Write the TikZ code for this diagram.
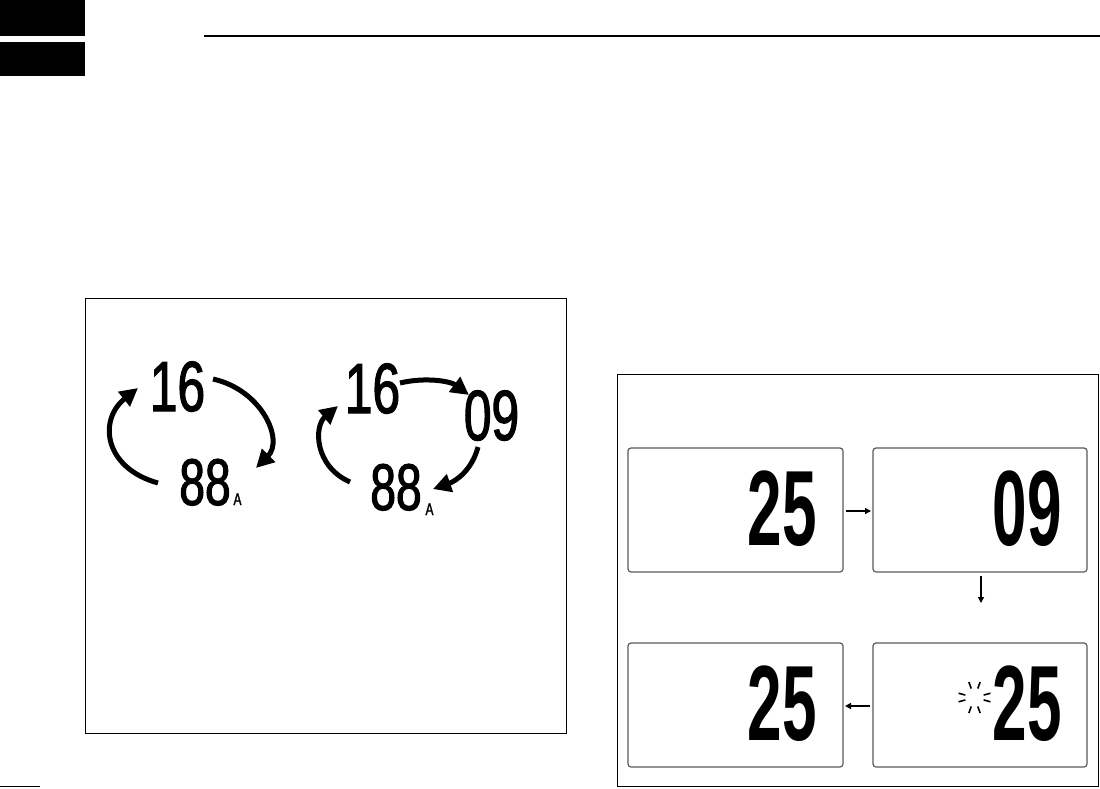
\documentclass[tikz,border=0pt]{standalone}
\usepackage{fontspec}
\setmainfont{Liberation Sans}
\newfontfamily\lcdbig[FakeStretch=0.58]{Liberation Sans}
\newfontfamily\lcdsmall[FakeStretch=0.70,FakeBold=1.6]{Liberation Sans}
\usetikzlibrary{arrows.meta,calc}
\begin{document}
\begin{tikzpicture}[x=1pt,y=-1pt,
  frame/.style={draw=black,line width=1pt},
  lcd/.style={draw=black!65,line width=1.2pt,rounded corners=3pt},
  bigdig/.style={inner sep=0pt,anchor=base,font=\lcdbig\bfseries\fontsize{107}{107}\selectfont},
  smalldig/.style={inner sep=0pt,anchor=base,font=\lcdsmall\fontsize{71}{71}\selectfont},
  smalleight/.style={inner sep=0pt,anchor=base,font=\lcdsmall\fontsize{66}{66}\selectfont},
  subA/.style={inner sep=0pt,anchor=base,font=\lcdsmall\fontsize{17}{17}\selectfont},
  cyc/.style={line width=5pt,-{Triangle[length=18pt,width=18pt]}},
  stepar/.style={line width=1.3pt,-{Triangle[length=6pt,width=6pt]}},
  ray/.style={line width=1.6pt}]
\useasboundingbox (0,0) rectangle (1100,788);
% header marks
\fill[black] (0,0) rectangle (85,36);
\fill[black] (0,42) rectangle (85,76);
\draw[line width=2pt] (204,36) -- (1100,36);
\draw[line width=1.5pt] (0,786.5) -- (40,786.5);
% left panel
\draw[frame] (85,298) rectangle (566,733);
\node[smalldig] (a16) at (177.5,411) {16};
\node[smalleight] (a88) at (205,505) {88};
\node[subA] (aA) at (237.5,505) {A};
\coordinate (a1s) at (213,379);
\coordinate (a1e) at (256,468);
\coordinate (a2s) at (158,483);
\coordinate (a2e) at (138,388);
\draw[cyc] (a1s) .. controls (262,390) and (284,440) .. (a1e);
\draw[cyc] (a2s) .. controls (104,468) and (98,420) .. (a2e);
\node[smalldig] (b16) at (372.5,413) {16};
\node[smalldig] (b09) at (491.5,440) {09};
\node[smalleight] (b88) at (396,510) {88};
\node[subA] (bA) at (429.5,515) {A};
\coordinate (b1s) at (400,383);
\coordinate (b1e) at (469,395);
\coordinate (b2s) at (478,447);
\coordinate (b2e) at (433,489);
\coordinate (b3s) at (350,482);
\coordinate (b3e) at (338,406);
\draw[cyc] (b1s) .. controls (425,377) and (450,381) .. (b1e);
\draw[cyc] (b2s) .. controls (472,470) and (456,481) .. (b2e);
\draw[cyc] (b3s) .. controls (314,466) and (314,426) .. (b3e);
% right panel
\draw[frame] (617,374) rectangle (1098,786.5);
\draw[lcd] (628,448) rectangle (843,572);
\draw[lcd] (873,448) rectangle (1087,572);
\draw[lcd] (628,643) rectangle (843,767);
\draw[lcd] (873,643) rectangle (1087,767);
\node[bigdig] (d1) at (782.5,545) {25};
\node[bigdig] (d2) at (1027.5,545) {09};
\node[bigdig] (d3) at (782.5,740) {25};
\node[bigdig] (d4) at (1027.5,740) {25};
\coordinate (sun) at (974.5,697.5);
\foreach \ang in {15,70,110,165,195,250,290,345}
  \draw[ray] ($(sun)+(\ang:9.5)$) -- ($(sun)+(\ang:16.5)$);
\coordinate (r1s) at (846,511);
\coordinate (r1e) at (871,511);
\coordinate (r2s) at (981,576);
\coordinate (r2e) at (981,603);
\coordinate (r3s) at (870,706);
\coordinate (r3e) at (845,706);
\draw[stepar] (r1s) -- (r1e);
\draw[stepar] (r2s) -- (r2e);
\draw[stepar] (r3s) -- (r3e);
\end{tikzpicture}
\end{document}
